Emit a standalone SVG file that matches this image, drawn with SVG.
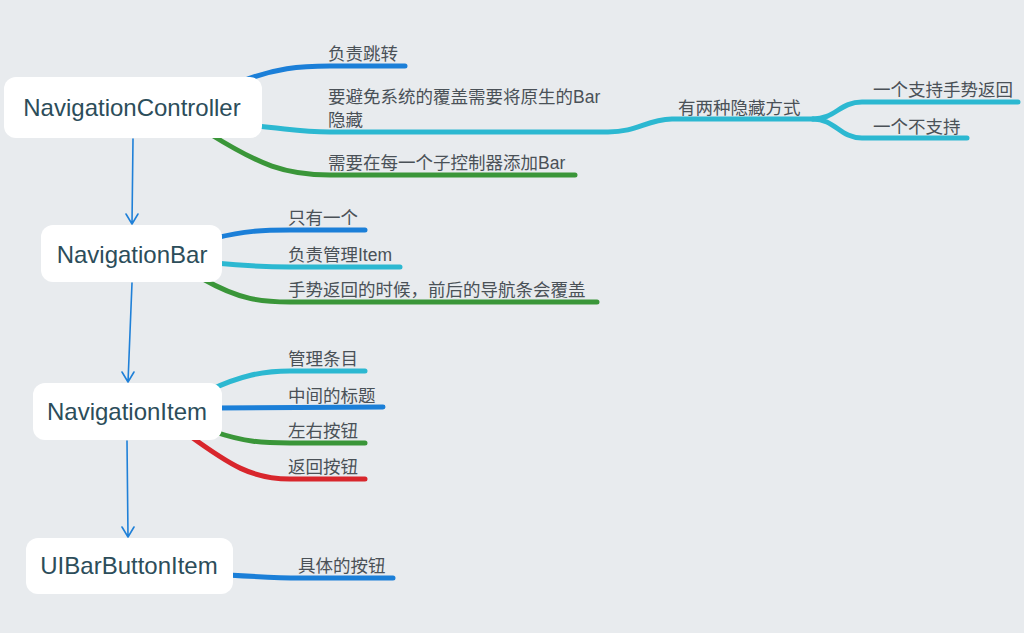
<svg xmlns="http://www.w3.org/2000/svg" width="1024" height="633" viewBox="0 0 1024 633">
<defs>
<style>
.bg{fill:#e8ebee}
.box{fill:#ffffff}
.nt{font-family:"Liberation Sans","Noto Sans CJK SC",sans-serif;font-size:24px;fill:#2c4d5a;text-anchor:middle}
.lb{font-family:"Liberation Sans","Noto Sans CJK SC",sans-serif;font-size:17.5px;fill:#4a5157}
.br{fill:none;stroke-width:5;stroke-linecap:round;stroke-linejoin:round}
.blue{stroke:#1b7fd8}
.cyan{stroke:#2cb8d1}
.green{stroke:#3a9639}
.red{stroke:#d8262c}
.ar{fill:none;stroke:#1f80d8;stroke-width:1.6;stroke-linecap:round;stroke-linejoin:round}
</style>
</defs>
<rect class="bg" x="0" y="0" width="1024" height="633"/>
<g id="connectors">
<path class="br blue" d="M240,82 C275,68 300,66 330,66 L405,66"/>
<path class="br cyan" d="M255,126 C290,129 300,132 330,132 L608,132 C638,132 645,120 672,119 L813,119"/>
<path class="br cyan" d="M813,119 C835,119 840,102 862,102 L1018,102"/>
<path class="br cyan" d="M813,119 C835,119 840,138 862,138 L967,138"/>
<path class="br green" d="M210,134 C260,165 285,175 330,175 L575,175"/>
<path class="br blue" d="M215,238 C245,231 262,230 290,230 L365,230"/>
<path class="br cyan" d="M215,263 C245,266 262,267 290,267 L400,267"/>
<path class="br green" d="M203,279 C240,300 262,302 290,302 L597,302"/>
<path class="br cyan" d="M210,390 C240,376 262,371 290,371 L365,371"/>
<path class="br blue" d="M215,408 L383,407"/>
<path class="br green" d="M215,432 C245,442 262,443 290,443 L365,443"/>
<path class="br red" d="M190,436 C230,465 252,479 290,479 L365,479"/>
<path class="br blue" d="M228,575 C260,577 280,578 300,578 L393,578"/>
<path class="ar" d="M133,139 L132,224 M126,214 L132,224 L138,214"/>
<path class="ar" d="M132,283 L128,382 M122,372 L128,382 L134,372"/>
<path class="ar" d="M127,441 L128,537 M122,527 L128,537 L134,527"/>
</g>
<g id="node-navigationcontroller">
<rect class="box" x="4" y="77" width="258" height="61" rx="12"/>
<text class="nt" x="132" y="116">NavigationController</text>
</g>
<g id="node-navigationbar">
<rect class="box" x="41" y="225" width="181" height="57" rx="12"/>
<text class="nt" x="132" y="263">NavigationBar</text>
</g>
<g id="node-navigationitem">
<rect class="box" x="33" y="383" width="189" height="57" rx="12"/>
<text class="nt" x="127" y="420">NavigationItem</text>
</g>
<g id="node-uibarbuttonitem">
<rect class="box" x="26" y="538" width="207" height="56" rx="12"/>
<text class="nt" x="129" y="574">UIBarButtonItem</text>
</g>
<g id="labels">
<text class="lb" x="328" y="60">负责跳转</text>
<text class="lb" x="328" y="103">要避免系统的覆盖需要将原生的Bar</text>
<text class="lb" x="328" y="126">隐藏</text>
<text class="lb" x="328" y="169">需要在每一个子控制器添加Bar</text>
<text class="lb" x="678" y="114">有两种隐藏方式</text>
<text class="lb" x="873" y="96">一个支持手势返回</text>
<text class="lb" x="873" y="133">一个不支持</text>
<text class="lb" x="288" y="224">只有一个</text>
<text class="lb" x="288" y="261">负责管理Item</text>
<text class="lb" x="288" y="296">手势返回的时候，前后的导航条会覆盖</text>
<text class="lb" x="288" y="365">管理条目</text>
<text class="lb" x="288" y="402">中间的标题</text>
<text class="lb" x="288" y="437">左右按钮</text>
<text class="lb" x="288" y="473">返回按钮</text>
<text class="lb" x="298" y="572">具体的按钮</text>
</g>
</svg>
